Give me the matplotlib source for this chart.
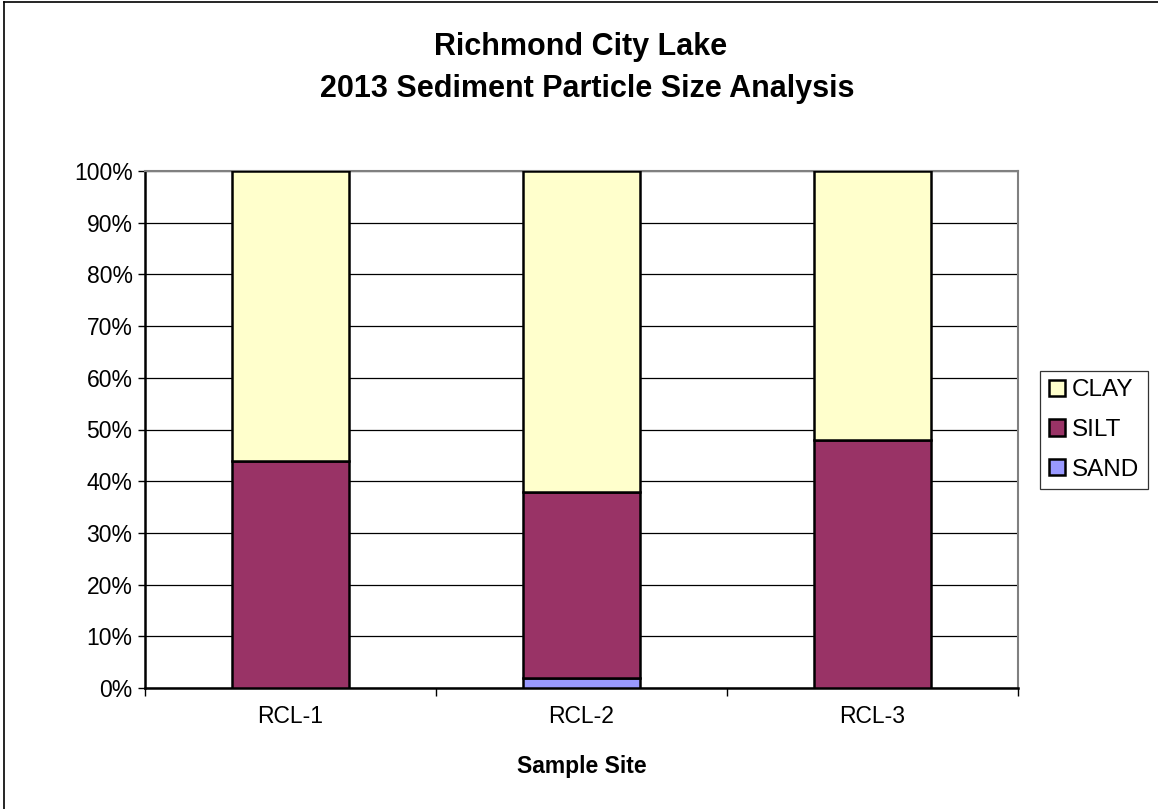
import matplotlib.pyplot as plt
from matplotlib.lines import Line2D
from matplotlib.patches import Patch
from matplotlib.ticker import PercentFormatter

plt.rcParams['font.family'] = ['Liberation Sans', 'DejaVu Sans']

# Particle size fractions (%) per sample site
sites = ['RCL-1', 'RCL-2', 'RCL-3']
sand = [0, 2, 0]
silt = [44, 36, 48]
clay = [56, 62, 52]

colors = {'CLAY': '#FFFFCC', 'SILT': '#993366', 'SAND': '#9999FF'}

W, H = 1158, 809
fig = plt.figure(figsize=(W / 100, H / 100), dpi=100)
ax = fig.add_axes([145 / W, 1 - 688 / H, (1018 - 145) / W, (688 - 171) / H])

x = list(range(len(sites)))
bw = 0.4
bottom_silt = sand
bottom_clay = [a + b for a, b in zip(sand, silt)]
ax.bar(x, sand, bw, color=colors['SAND'], edgecolor='black', linewidth=1.8, zorder=3)
ax.bar(x, silt, bw, bottom=bottom_silt, color=colors['SILT'], edgecolor='black',
       linewidth=1.8, zorder=3)
ax.bar(x, clay, bw, bottom=bottom_clay, color=colors['CLAY'], edgecolor='black',
       linewidth=1.8, zorder=3)

ax.set_xlim(-0.5, 2.5)
ax.set_ylim(0, 100)
ax.set_yticks(range(0, 101, 10))
ax.yaxis.set_major_formatter(PercentFormatter(decimals=0))
ax.yaxis.grid(True, color='black', linewidth=0.9)
ax.set_axisbelow(True)

# category labels centred, ticks between categories
ax.set_xticks(x)
ax.set_xticklabels(sites)
ax.tick_params(axis='x', length=0, labelsize=16.5, pad=12)
ax.set_xticks([-0.5, 0.5, 1.5, 2.5], minor=True)
ax.tick_params(axis='x', which='minor', length=6, width=1, direction='out')
ax.tick_params(axis='y', length=5, width=1, labelsize=16.5, pad=4)

for s in ['left', 'bottom']:
    ax.spines[s].set_linewidth(1.8)
    ax.spines[s].set_color('black')
for s in ['top', 'right']:
    ax.spines[s].set_linewidth(1.5)
    ax.spines[s].set_color('#808080')

ax.set_xlabel('Sample Site', fontsize=16.5, fontweight='bold', labelpad=20)

fig.text(581 / W, 1 - 47 / H, 'Richmond City Lake', ha='center', va='center',
         fontsize=22, fontweight='bold')
fig.text(587 / W, 1 - 89 / H, '2013 Sediment Particle Size Analysis', ha='center',
         va='center', fontsize=22, fontweight='bold')

handles = [Patch(facecolor=colors[k], edgecolor='black', linewidth=1.8)
           for k in ['CLAY', 'SILT', 'SAND']]
leg = fig.legend(handles, ['CLAY', 'SILT', 'SAND'], loc='center',
                 bbox_to_anchor=(1094 / W, 1 - 430 / H), fontsize=17.5,
                 frameon=True, fancybox=False, borderpad=0.35, labelspacing=0.72,
                 handlelength=0.65, handleheight=0.65, handletextpad=0.3,
                 borderaxespad=0)
leg.get_frame().set_edgecolor('black')
leg.get_frame().set_linewidth(0.9)

# outer chart border (left and top visible)
fig.add_artist(Line2D([4 / W, 4 / W], [0, 1 - 2 / H], color='black', linewidth=1.2))
fig.add_artist(Line2D([4 / W, 1], [1 - 2 / H, 1 - 2 / H], color='black', linewidth=1.2))

fig.savefig('out.png', dpi=100)
